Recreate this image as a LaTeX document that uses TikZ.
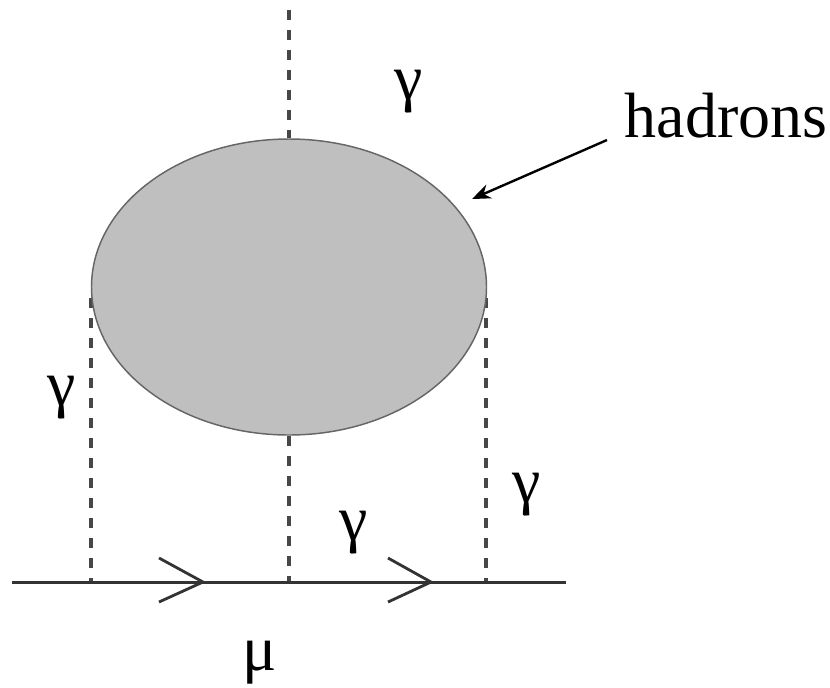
\documentclass[tikz,border=0pt]{standalone}
\usepackage{fontspec}
\setmainfont{Liberation Serif}
\usetikzlibrary{arrows.meta,shapes.geometric}
\begin{document}
\begin{tikzpicture}[x=0.75pt,y=-0.75pt,
  lbl/.style={inner sep=0pt,font=\fontsize{48}{48}\selectfont},
  dashline/.style={draw=black!72,line width=2.3pt,dash pattern=on 7.8pt off 7.2pt},
  fermion/.style={draw=black!80,line width=2.25pt},
  chev/.style={draw=black!80,line width=2.1pt}]
\useasboundingbox (0,0) rectangle (830,687);
\coordinate (topend) at (289,10);
\coordinate (lineL) at (12,582);
\coordinate (lineR) at (566,582);
\coordinate (vL) at (91,582);
\coordinate (vM) at (289,582);
\coordinate (vR) at (486,582);
\coordinate (bL) at (91,298);
\coordinate (bR) at (486,298);
\draw[dashline] (bL) -- (vL);
\draw[dashline] (bR) -- (vR);
\node[draw=black!60,fill=black!25,line width=1.1pt,ellipse,minimum width=296.25pt,minimum height=222pt,inner sep=0pt] (blob) at (289,287) {};
\draw[dashline] (topend) -- (blob.north);
\draw[dashline] (blob.south) -- (vM);
\draw[fermion] (lineL) -- (lineR);
\draw[chev] (159,558) -- (203,582) -- (159,602);
\draw[chev] (388,558) -- (431,582) -- (388,602);
\node[lbl] (g1) at (409,92) {γ};
\node[lbl] (g2) at (62,398) {γ};
\node[lbl] (g3) at (527,495) {γ};
\node[lbl] (g4) at (354,533) {γ};
\node[lbl] (mu) at (260,663) {μ};
\node[lbl] (h) at (726,116) {hadrons};
\coordinate (hs) at (607,140);
\coordinate (ht) at (472,199);
\draw[draw=black,line width=1.8pt,-{Stealth[length=14pt,width=11pt]}] (hs) -- (ht);
\end{tikzpicture}
\end{document}
